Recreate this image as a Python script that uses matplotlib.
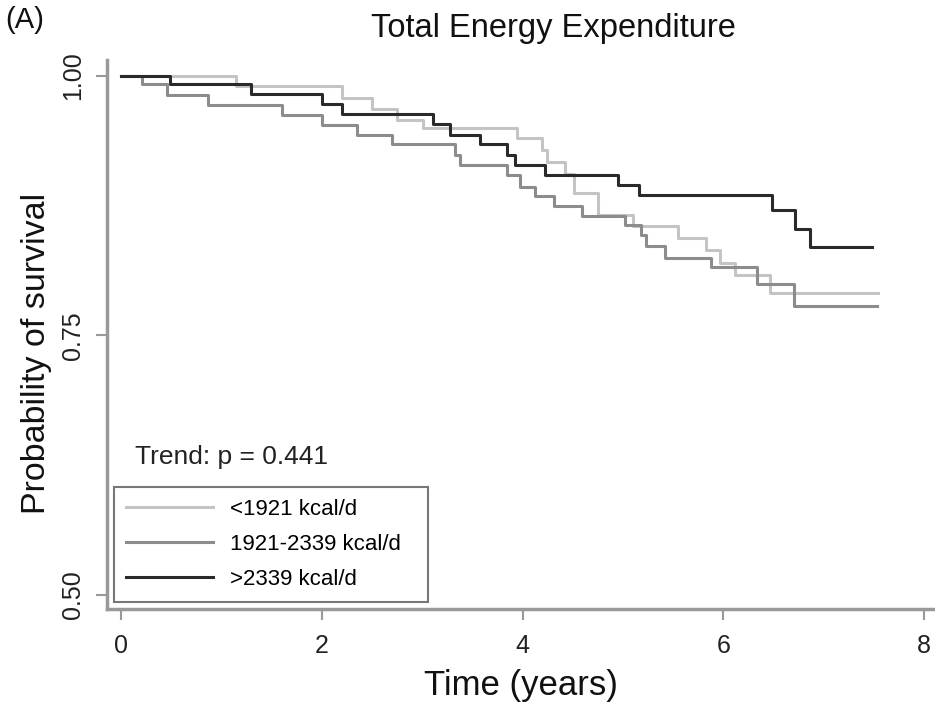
import matplotlib
matplotlib.use("Agg")
import matplotlib.pyplot as plt

plt.rcParams['font.family'] = ['Liberation Sans', 'DejaVu Sans']

# Kaplan-Meier step data: times where survival drops and the level after the drop
labels = ["<1921 kcal/d", "1921-2339 kcal/d", ">2339 kcal/d"]
colors = ["#c4c4c4", "#8c8c8c", "#2a2a2a"]

low_t = [0, 1.15, 2.2, 2.5, 2.75, 3.01, 3.94, 4.19, 4.24, 4.42, 4.51, 4.75, 5.10,
         5.55, 5.83, 5.97, 6.12, 6.46, 7.54]
low_s = [1.0, 0.990, 0.979, 0.968, 0.958, 0.950, 0.940, 0.929, 0.917, 0.906, 0.887,
         0.866, 0.855, 0.844, 0.832, 0.820, 0.808, 0.791, 0.791]

mid_t = [0, 0.21, 0.46, 0.87, 1.6, 2.0, 2.35, 2.7, 3.33, 3.38, 3.84, 3.97, 4.12, 4.31,
         4.59, 5.02, 5.18, 5.23, 5.42, 5.88, 6.33, 6.70, 7.53]
mid_s = [1.0, 0.992, 0.982, 0.972, 0.962, 0.953, 0.943, 0.934, 0.924, 0.914, 0.905,
         0.893, 0.884, 0.875, 0.865, 0.856, 0.847, 0.836, 0.825, 0.816, 0.800, 0.778, 0.778]

high_t = [0, 0.49, 1.3, 2.0, 2.2, 3.11, 3.28, 3.58, 3.84, 3.92, 4.22, 4.95, 5.16, 6.48,
          6.71, 6.86, 7.48]
high_s = [1.0, 0.992, 0.983, 0.973, 0.963, 0.954, 0.943, 0.934, 0.924, 0.914, 0.905,
          0.895, 0.885, 0.871, 0.853, 0.835, 0.835]

x_ticks = [0, 2, 4, 6, 8]
y_ticks = [0.50, 0.75, 1.00]

fig = plt.figure(figsize=(9.35, 7.09), dpi=100)
ax = fig.add_axes([107 / 935, 100 / 709, 828 / 935, 549 / 709])

for t, s, c, lab in zip([low_t, mid_t, high_t], [low_s, mid_s, high_s], colors, labels):
    ax.step(t, s, where="post", color=c, linewidth=2.2, label=lab)

ax.set_xlim(-0.139, 8.107)
ax.set_ylim(0.4865, 1.0154)

for side in ["top", "right"]:
    ax.spines[side].set_visible(False)
for side in ["left", "bottom"]:
    ax.spines[side].set_color("#999999")
    ax.spines[side].set_linewidth(2.5)

ax.set_xticks(x_ticks)
ax.set_yticks(y_ticks)
ax.set_yticklabels(["0.50", "0.75", "1.00"], rotation=90, va="center")
ax.tick_params(axis="both", colors="#999999", length=8, width=1.5, labelsize=18,
               labelcolor="#222222")
ax.tick_params(axis="x", pad=10)
ax.tick_params(axis="y", pad=8)

ax.set_xlabel("Time (years)", fontsize=25, color="#111111", labelpad=8)
ax.set_ylabel("Probability of survival", fontsize=24.5, color="#111111")
ax.yaxis.set_label_coords(-0.066, 0.466)

ax.text(0.14, 0.633, "Trend: p = 0.441", fontsize=19, color="#222222", va="center")

leg = ax.legend(loc="lower left", bbox_to_anchor=(0.0085, 0.0128, 0.379, 0.2),
                mode="expand", borderaxespad=0,
                fancybox=False, frameon=True, fontsize=16, handlelength=3.9,
                handletextpad=0.75, labelspacing=0.62, borderpad=0.55)
leg.get_frame().set_edgecolor("#555555")
leg.get_frame().set_linewidth(1.5)
for line in leg.get_lines():
    line.set_linewidth(2.2)

fig.text(553 / 935, 1 - 28 / 709, "Total Energy Expenditure", fontsize=23.5,
         ha="center", va="center", color="#111111")
fig.text(5 / 935, 1 - 20 / 709, "(A)", fontsize=21, ha="left", va="center",
         color="#111111")

fig.savefig("out.png", dpi=100)
